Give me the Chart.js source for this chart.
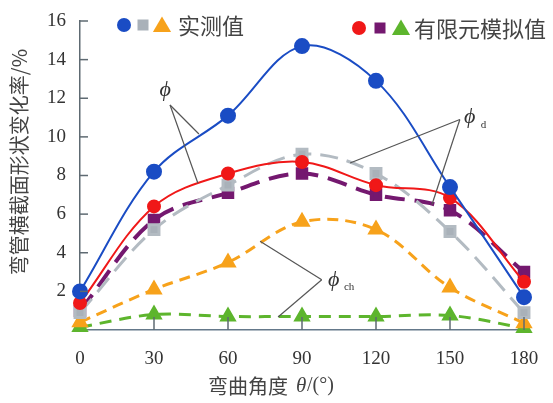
<!DOCTYPE html>
<html>
<head>
<meta charset="utf-8">
<script src="https://cdn.jsdelivr.net/npm/chart.js@4.4.1/dist/chart.umd.min.js"></script>
<style>
  html, body { margin: 0; padding: 0; background: #fff; }
  #wrap { width: 553px; height: 403px; }
</style>
</head>
<body>
<div id="wrap"><canvas id="bendChart"></canvas></div>
<script>
// bending angle (deg)
const angles = [0, 30, 60, 90, 120, 150, 180];
const yTicks = [2, 4, 6, 8, 10, 12, 14, 16];

// measured values
const measPhi = [2.0, 8.2, 11.1, 14.7, 12.9, 7.4, 1.7];
const measPhiD = [0.9, 5.2, 7.5, 9.1, 8.1, 5.1, 0.9];
const measPhiCh = [0.4, 2.1, 3.5, 5.6, 5.2, 2.2, 0.35];

// FEM simulated values
const femPhi = [1.4, 6.4, 8.1, 8.7, 7.5, 6.85, 2.5];
const femPhiD = [1.0, 5.7, 7.1, 8.1, 7.0, 6.2, 3.0];
const femPhiCh = [0.15, 0.8, 0.7, 0.7, 0.7, 0.75, 0.1];

const toPts = (arr) => angles.map((a, i) => ({ x: a, y: arr[i] }));

const serif = "'Liberation Serif', 'DejaVu Serif', serif";
const cjk = "'Noto Sans CJK SC', sans-serif";

// extra drawing: inner ticks, legend, annotations, axis titles
const decorPlugin = {
  id: "decor",
  afterDraw(chart) {
    const ctx = chart.ctx;
    const xs = chart.scales.x;
    const ys = chart.scales.y;
    const px = (v) => xs.getPixelForValue(v);
    const py = (v) => ys.getPixelForValue(v);
    ctx.save();

    // inner tick marks
    ctx.strokeStyle = "#5e6a72";
    ctx.lineWidth = 1.5;
    yTicks.forEach((t) => {
      ctx.beginPath();
      ctx.moveTo(xs.left, py(t));
      ctx.lineTo(xs.left + 8, py(t));
      ctx.stroke();
    });
    angles.slice(1).forEach((a) => {
      ctx.beginPath();
      ctx.moveTo(px(a), ys.bottom);
      ctx.lineTo(px(a), ys.bottom - 13);
      ctx.stroke();
    });

    // annotation lines
    ctx.strokeStyle = "#555";
    ctx.lineWidth = 1.2;
    const lines = [
      [36.5, 11.65, 48.2, 10.15],
      [36.5, 11.65, 47.8, 7.6],
      [154, 10.9, 109.5, 8.65],
      [154, 10.9, 142.7, 6.5],
      [98, 2.6, 73, 4.6],
      [98, 2.6, 80.3, 0.67],
    ];
    lines.forEach(([x1, y1, x2, y2]) => {
      ctx.beginPath();
      ctx.moveTo(px(x1), py(y1));
      ctx.lineTo(px(x2), py(y2));
      ctx.stroke();
    });

    // annotation text
    ctx.fillStyle = "#333";
    ctx.textBaseline = "middle";
    ctx.textAlign = "center";
    ctx.font = "italic 22px " + serif;
    ctx.fillText("\u03d5", px(34.5), py(12.4));
    ctx.fillText("\u03d5", px(158), py(11.0));
    ctx.fillText("\u03d5", px(102.8), py(2.6));
    ctx.font = "11px " + serif;
    ctx.textAlign = "left";
    ctx.fillText("d", px(162.5), py(10.6));
    ctx.fillText("ch", px(107), py(2.2));

    // legend
    const circle = (x, y, r, c) => {
      ctx.fillStyle = c;
      ctx.beginPath();
      ctx.arc(x, y, r, 0, Math.PI * 2);
      ctx.fill();
    };
    const square = (x, y, s, c) => {
      ctx.fillStyle = c;
      ctx.fillRect(x - s / 2, y - s / 2, s, s);
    };
    const tri = (x, y, s, c) => {
      ctx.fillStyle = c;
      ctx.beginPath();
      ctx.moveTo(x, y - s * 0.6);
      ctx.lineTo(x + s * 0.65, y + s * 0.5);
      ctx.lineTo(x - s * 0.65, y + s * 0.5);
      ctx.closePath();
      ctx.fill();
    };
    circle(124, 25, 7, "#1a4cc4");
    square(143, 25, 11, "#a9b1b9");
    tri(162, 25, 14, "#f7a21b");
    circle(359, 28, 7, "#f01818");
    square(380, 28, 11, "#74186f");
    tri(401, 28, 14, "#5db52d");
    ctx.fillStyle = "#444";
    ctx.font = "22px " + cjk;
    ctx.textAlign = "left";
    ctx.fillText("实测值", 178, 26);
    ctx.fillText("有限元模拟值", 414, 29);

    // axis titles
    ctx.font = "20px " + cjk;
    ctx.textAlign = "left";
    ctx.fillText("弯曲角度", 208, 386);
    ctx.font = "italic 21px " + serif;
    ctx.fillText("\u03b8", 296, 386);
    ctx.font = "20px " + serif;
    ctx.fillText("/(\u00b0)", 307, 386);

    ctx.translate(19, 162);
    ctx.rotate(-Math.PI / 2);
    ctx.textAlign = "center";
    ctx.font = "20px " + cjk;
    ctx.fillText("弯管横截面形状变化率/%", 0, 0);
    ctx.restore();
  },
};

const common = { borderCapStyle: "butt", clip: false, tension: 0.35, fill: false };

new Chart(document.getElementById("bendChart").getContext("2d"), {
  type: "line",
  data: {
    datasets: [
      {
        ...common,
        label: "实测值 φ",
        data: toPts(measPhi),
        borderColor: "#1a4cc4",
        backgroundColor: "#1a4cc4",
        borderWidth: 2,
        pointStyle: "circle",
        pointRadius: 7,
        order: 0,
      },
      {
        ...common,
        label: "有限元 φ",
        data: toPts(femPhi),
        borderColor: "#f01818",
        backgroundColor: "#f01818",
        borderWidth: 2,
        pointStyle: "circle",
        pointRadius: 6,
        order: 1,
      },
      {
        ...common,
        label: "实测值 φd",
        data: toPts(measPhiD),
        borderColor: "#b3bbc2",
        backgroundColor: "#a9b1b9",
        borderWidth: 3,
        borderDash: [18, 9],
        pointStyle: "rect",
        pointRadius: 7,
        order: 2,
      },
      {
        ...common,
        label: "有限元 φd",
        data: toPts(femPhiD),
        borderColor: "#74186f",
        backgroundColor: "#74186f",
        borderWidth: 4,
        borderDash: [20, 10],
        pointStyle: "rect",
        pointRadius: 6,
        order: 3,
      },
      {
        ...common,
        label: "实测值 φch",
        data: toPts(measPhiCh),
        borderColor: "#f7a21b",
        backgroundColor: "#f7a21b",
        borderWidth: 3,
        borderDash: [11, 7],
        pointStyle: "triangle",
        pointRadius: 7,
        order: 4,
      },
      {
        ...common,
        label: "有限元 φch",
        data: toPts(femPhiCh),
        borderColor: "#5db52d",
        backgroundColor: "#5db52d",
        borderWidth: 3,
        borderDash: [12, 8],
        pointStyle: "triangle",
        pointRadius: 7,
        order: 5,
      },
    ],
  },
  options: {
    responsive: true,
    maintainAspectRatio: false,
    animation: false,
    layout: { padding: { top: 21, right: 29, left: 0, bottom: 0 } },
    scales: {
      x: {
        type: "linear",
        min: 0,
        max: 180,
        afterFit: (s) => { s.height = 73; },
        afterBuildTicks: (s) => { s.ticks = angles.map((a) => ({ value: a })); },
        grid: { display: false },
        border: { display: true, color: "#64788a", width: 1.5 },
        ticks: { color: "#333", font: { family: serif, size: 19 }, padding: 10 },
      },
      y: {
        min: 0,
        max: 16,
        afterFit: (s) => { s.width = 80; },
        afterBuildTicks: (s) => { s.ticks = yTicks.map((t) => ({ value: t })); },
        grid: { display: false },
        border: { display: true, color: "#5e6a72", width: 1.5 },
        ticks: { color: "#333", font: { family: serif, size: 19 }, padding: 6 },
      },
    },
    plugins: {
      legend: { display: false },
      tooltip: { enabled: false },
    },
  },
  plugins: [decorPlugin],
});
</script>
</body>
</html>
